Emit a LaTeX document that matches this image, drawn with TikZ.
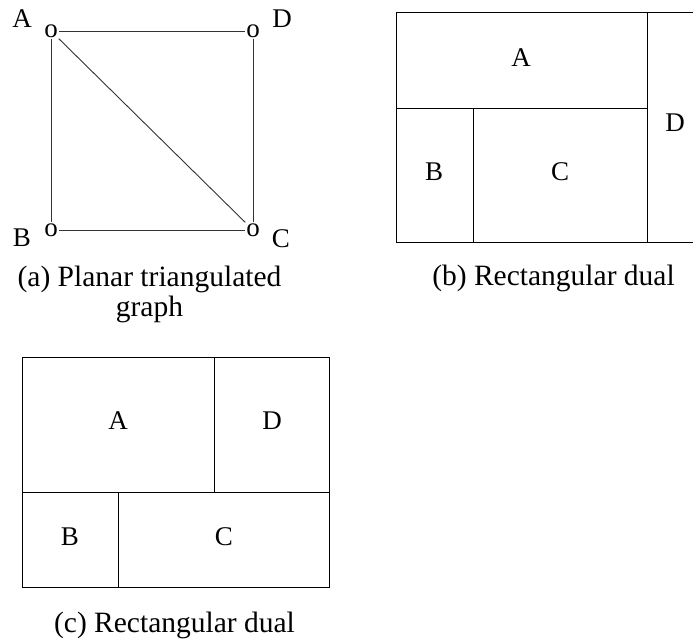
\documentclass[tikz,border=0pt]{standalone}
\usepackage{fontspec}
\setmainfont{Liberation Serif}
\begin{document}
\begin{tikzpicture}[x=1pt,y=-1pt,
  vert/.style={inner sep=1pt, font=\fontsize{27}{27}\selectfont},
  lab/.style={inner sep=0pt, font=\fontsize{27}{27}\selectfont},
  captext/.style={inner sep=0pt, anchor=base, font=\fontsize{29.5}{29.5}\selectfont},
  gedge/.style={line width=0.9pt, draw=black!80},
  box/.style={line width=0.9pt, draw=black}]
\useasboundingbox (0,0) rectangle (693,642);
% (a) graph
\node[vert] (vA) at (51,31) {o};
\node[vert] (vD) at (253,31) {o};
\node[vert] (vB) at (51,230) {o};
\node[vert] (vC) at (253,230) {o};
\node[lab] (lA) at (22,19) {A};
\node[lab] (lD) at (282,19) {D};
\node[lab] (lB) at (22,238) {B};
\node[lab] (lC) at (281,239) {C};
\draw[gedge] (vA) -- (vD);
\draw[gedge] (vA) -- (vB);
\draw[gedge] (vD) -- (vC);
\draw[gedge] (vB) -- (vC);
\draw[gedge] (vA) -- (vC);
\node[captext] (capa) at (149.5,286) {(a) Planar triangulated};
\node[captext] (capa2) at (149.5,316) {graph};
% (b) rectangular dual
\begin{scope}
\clip (0,0) rectangle (693,642);
\draw[box] (700,12) -- (396,12) -- (396,242) -- (700,242);
\draw[box] (396,108) -- (647,108);
\draw[box] (473,108) -- (473,242);
\draw[box] (647,12) -- (647,242);
\end{scope}
\node[lab] (bA) at (521,58) {A};
\node[lab] (bB) at (434,172) {B};
\node[lab] (bC) at (560,172) {C};
\node[lab] (bD) at (675,123) {D};
\node[captext] (capb) at (553.5,285) {(b) Rectangular dual};
% (c) rectangular dual
\draw[box] (22,357) rectangle (329,587);
\draw[box] (22,492) -- (329,492);
\draw[box] (214,357) -- (214,492);
\draw[box] (118,492) -- (118,587);
\node[lab] (cA) at (118,421) {A};
\node[lab] (cD) at (272,421) {D};
\node[lab] (cB) at (70,537) {B};
\node[lab] (cC) at (224,537) {C};
\node[captext] (capc) at (174.5,632) {(c) Rectangular dual};
\end{tikzpicture}
\end{document}
